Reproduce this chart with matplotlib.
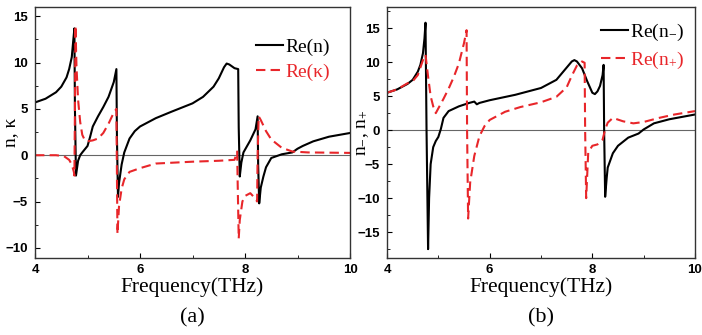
import numpy as np
import matplotlib
matplotlib.use("Agg")
import matplotlib.pyplot as plt
from matplotlib.ticker import MultipleLocator

plt.rcParams['mathtext.fontset'] = 'custom'
plt.rcParams['mathtext.rm'] = 'Liberation Serif'
plt.rcParams['mathtext.it'] = 'Liberation Serif'

# ---- panel (a) data ----
f_n = [4.0, 4.2, 4.4, 4.5, 4.6, 4.65, 4.7, 4.73, 4.75, 4.76, 4.78, 4.82, 4.86, 4.9, 5.0, 5.05,
       5.1, 5.2, 5.3, 5.4, 5.5, 5.55, 5.56, 5.58, 5.6, 5.65, 5.7, 5.8, 5.9, 6.0, 6.3, 6.6,
       7.0, 7.2, 7.4, 7.5, 7.6, 7.65, 7.7, 7.75, 7.8, 7.87, 7.88, 7.9, 7.93, 7.97, 8.0, 8.1,
       8.2, 8.24, 8.25, 8.27, 8.3, 8.35, 8.4, 8.5, 8.7, 8.9, 9.0, 9.1, 9.3, 9.6, 10.0]
re_n = [5.7, 6.1, 6.8, 7.4, 8.4, 9.3, 10.6, 12.5, 13.7, 5.0, -2.2, -0.6, 0.0, 0.3, 1.0, 2.0,
        3.1, 4.2, 5.2, 6.3, 7.9, 9.3, 2.0, -4.5, -3.0, -1.0, 0.3, 1.8, 2.6, 3.1, 4.0, 4.7,
        5.6, 6.3, 7.4, 8.3, 9.5, 9.9, 9.8, 9.6, 9.4, 9.3, 3.0, -2.3, -0.8, 0.3, 0.6, 1.6,
        2.8, 4.2, -1.0, -5.2, -3.5, -2.3, -1.3, -0.3, 0.1, 0.3, 0.7, 1.0, 1.5, 2.0, 2.4]

f_k = [4.0, 4.4, 4.55, 4.65, 4.7, 4.74, 4.75, 4.76, 4.77, 4.79, 4.82, 4.86, 4.9, 4.95, 5.0,
       5.1, 5.2, 5.3, 5.4, 5.5, 5.55, 5.56, 5.57, 5.6, 5.65, 5.7, 5.8, 6.0, 6.3, 7.0, 7.5,
       7.8, 7.85, 7.86, 7.88, 7.9, 7.95, 8.0, 8.1, 8.2, 8.23, 8.24, 8.26, 8.3, 8.4, 8.5, 8.7,
       8.9, 9.2, 10.0]
re_k = [0.0, 0.0, -0.1, -0.5, -1.0, -1.8, -2.2, 5.0, 14.0, 9.5, 6.0, 3.6, 2.2, 1.6, 1.5,
        1.6, 1.8, 2.4, 3.4, 4.6, 5.0, -2.0, -8.5, -5.5, -3.6, -2.6, -1.8, -1.4, -0.9, -0.7, -0.6,
        -0.5, 0.4, -3.0, -9.0, -7.0, -5.0, -4.4, -4.1, -4.7, -5.0, 0.0, 4.2, 3.8, 2.6, 1.7, 0.8,
        0.4, 0.3, 0.25]

# ---- panel (b) data ----
f_m = [4.0, 4.2, 4.4, 4.5, 4.6, 4.65, 4.7, 4.73, 4.75, 4.77, 4.8, 4.82, 4.85, 4.9, 4.95, 5.0,
       5.05, 5.1, 5.2, 5.4, 5.6, 5.7, 5.75, 5.8, 6.0, 6.5, 7.0, 7.3, 7.5, 7.6, 7.65, 7.7,
       7.8, 7.9, 8.0, 8.05, 8.1, 8.15, 8.2, 8.22, 8.23, 8.25, 8.28, 8.3, 8.4, 8.5, 8.7, 8.9,
       9.0, 9.2, 9.5, 10.0]
re_nm = [5.5, 6.0, 6.8, 7.4, 8.6, 9.6, 11.3, 13.5, 15.8, 0.0, -17.5, -10.0, -5.0, -2.5, -1.6, -1.0,
         0.2, 1.8, 2.8, 3.5, 4.0, 4.2, 3.8, 4.0, 4.4, 5.2, 6.2, 7.4, 9.2, 10.1, 10.3, 10.1,
         9.1, 7.2, 5.5, 5.3, 5.7, 6.5, 8.1, 9.6, 0.0, -9.8, -7.0, -5.5, -3.4, -2.3, -1.1, -0.5,
         0.1, 1.0, 1.6, 2.3]

f_p = [4.0, 4.2, 4.4, 4.5, 4.6, 4.7, 4.75, 4.8, 4.85, 4.9, 4.95, 5.0, 5.1, 5.2, 5.3, 5.4,
       5.5, 5.55, 5.56, 5.58, 5.62, 5.7, 5.8, 5.9, 6.0, 6.3, 6.6, 7.0, 7.3, 7.5, 7.6, 7.7,
       7.8, 7.85, 7.86, 7.88, 7.92, 8.0, 8.1, 8.2, 8.25, 8.3, 8.4, 8.6, 8.8, 9.0, 9.3, 9.6,
       10.0]
re_np = [5.5, 6.0, 6.9, 7.2, 8.1, 10.3, 11.1, 7.9, 5.0, 3.5, 2.5, 3.2, 4.6, 6.1, 7.8, 9.8,
         12.8, 14.7, 0.0, -13.0, -7.7, -3.8, -0.9, 0.6, 1.5, 2.7, 3.4, 4.1, 4.9, 6.3, 8.0, 9.5,
         10.1, 9.9, 0.0, -10.0, -3.3, -2.3, -2.1, -1.4, 0.1, 1.1, 1.8, 1.3, 1.0, 1.2, 1.8, 2.3,
         2.8]

fig = plt.figure(figsize=(7.02, 3.35), dpi=100)
ax_a = fig.add_axes([0.0499, 0.2299, 0.4487, 0.749])
ax_b = fig.add_axes([0.5513, 0.2299, 0.4387, 0.749])

red = '#e8262a'
dash = (0, (4.5, 2.5))

ax_a.plot(f_n, re_n, color='black', lw=1.5, label='Re(n)')
ax_a.plot(f_k, re_k, color=red, lw=1.5, ls=dash, label='Re(κ)')
ax_a.set_ylim(-11.1, 16.0)
ax_a.set_ylabel('n, κ', family='Liberation Serif', fontsize=14)
ax_a.yaxis.set_label_coords(-0.05, 0.5)

ax_b.plot(f_m, re_nm, color='black', lw=1.5, label='Re(n$_{-}$)')
ax_b.plot(f_p, re_np, color=red, lw=1.5, ls=dash, label='Re(n$_{+}$)')
ax_b.set_ylim(-18.8, 18.1)
ax_b.set_ylabel('n$_{-}$, n$_{+}$', family='Liberation Serif', fontsize=14)
ax_b.yaxis.set_label_coords(-0.052, 0.5)

legend_pos = {ax_a: (0.935, 0.875), ax_b: (0.965, 0.94)}

for ax, lab in [(ax_a, '(a)'), (ax_b, '(b)')]:
    ax.axhline(0, color='#666666', lw=0.8, zorder=0)
    ax.set_xlim(4, 10)
    ax.xaxis.set_major_locator(MultipleLocator(2))
    ax.xaxis.set_minor_locator(MultipleLocator(1))
    ax.yaxis.set_major_locator(MultipleLocator(5))
    ax.yaxis.set_minor_locator(MultipleLocator(2.5))
    ax.tick_params(which='major', direction='in', length=3.5, width=0.8)
    ax.tick_params(which='minor', direction='in', length=2, width=0.6)
    ax.tick_params(axis='x', which='major', pad=4)
    ax.tick_params(axis='y', which='major', pad=5)
    for t in ax.get_xticklabels() + ax.get_yticklabels():
        t.set_family('Liberation Sans')
        t.set_fontweight('bold')
        t.set_fontsize(9.5)
    for s in ax.spines.values():
        s.set_color('#333333')
        s.set_linewidth(1.0)
    ax.set_xlabel('Frequency(THz)', family='Liberation Serif', fontsize=15.5, labelpad=1)
    ax.text(0.5, -0.24, lab, transform=ax.transAxes, ha='center', va='center',
            family='Liberation Serif', fontsize=16)
    leg = ax.legend(loc='upper right', bbox_to_anchor=legend_pos[ax], frameon=False,
                    labelcolor='linecolor', handlelength=1.4, handletextpad=0.1,
                    borderaxespad=0.0, borderpad=0.0, labelspacing=0.35,
                    prop={'family': 'Liberation Serif', 'size': 14})

fig.savefig('out.png', dpi=100)
